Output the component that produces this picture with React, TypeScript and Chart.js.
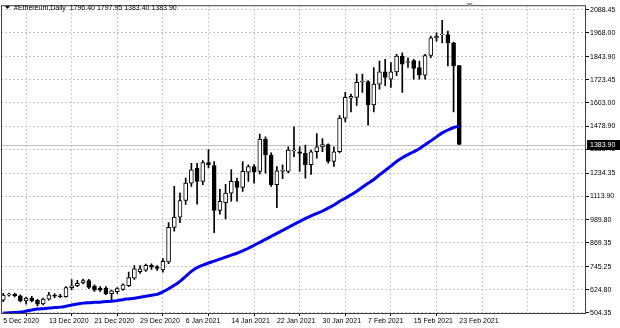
import React, { useEffect, useRef } from "react";
import { Chart, registerables } from "chart.js";
Chart.register(...registerables);

// Daily candles, 5 Dec 2020 .. 23 Feb 2021 (index 0..80)
const opens = [570, 596, 601, 592, 566, 580, 568, 550, 575, 596, 592, 588, 635, 645, 660, 672, 642, 633, 633, 604, 614, 626, 645, 685, 718, 727, 752, 745, 728, 770, 950, 1004, 1091, 1182, 1260, 1191, 1289, 1274, 1039, 1079, 1130, 1191, 1160, 1239, 1269, 1243, 1412, 1329, 1174, 1244, 1243, 1350, 1346, 1338, 1278, 1346, 1372, 1384, 1295, 1346, 1522, 1626, 1631, 1711, 1713, 1591, 1700, 1764, 1726, 1764, 1847, 1814, 1823, 1787, 1747, 1850, 1942, 1958, 1959, 1916, 1796.4];
const highs = [605, 606, 606, 598, 585, 590, 574, 580, 610, 604, 600, 640, 677, 673, 680, 678, 650, 640, 640, 622, 635, 655, 716, 750, 751, 758, 760, 750, 787, 975, 1165, 1130, 1208, 1286, 1286, 1300, 1357, 1295, 1150, 1175, 1253, 1208, 1295, 1278, 1279, 1438, 1424, 1340, 1269, 1278, 1372, 1476, 1372, 1381, 1355, 1441, 1415, 1388, 1372, 1536, 1657, 1648, 1752, 1752, 1718, 1787, 1821, 1830, 1813, 1856, 1864, 1838, 1830, 1821, 1856, 1951, 1968, 2034, 1977, 1920, 1797.95];
const lows = [562, 590, 586, 560, 548, 560, 540, 545, 570, 582, 582, 585, 625, 640, 655, 630, 615, 615, 598, 566, 605, 620, 640, 678, 710, 720, 730, 725, 716, 760, 930, 975, 1070, 1165, 1072, 1174, 1262, 923, 1020, 994, 1087, 1087, 1139, 1191, 1182, 1230, 1234, 1165, 1053, 1205, 1235, 1320, 1243, 1208, 1227, 1312, 1346, 1286, 1269, 1340, 1502, 1554, 1588, 1657, 1485, 1554, 1674, 1692, 1683, 1744, 1657, 1787, 1726, 1726, 1726, 1838, 1925, 1916, 1795, 1554, 1383.4];
const closes = [596, 601, 592, 566, 580, 566, 548, 575, 598, 590, 588, 635, 645, 658, 672, 636, 622, 622, 604, 618, 630, 650, 687, 733, 733, 752, 742, 736, 773, 950, 1004, 1091, 1182, 1252, 1191, 1289, 1279, 1039, 1087, 1130, 1191, 1160, 1243, 1269, 1239, 1412, 1329, 1174, 1246, 1249, 1355, 1356, 1338, 1278, 1346, 1372, 1383, 1295, 1346, 1522, 1631, 1636, 1709, 1714, 1591, 1700, 1764, 1735, 1764, 1847, 1804, 1818, 1782, 1747, 1850, 1942, 1951, 1962, 1916, 1795, 1383.9];
// Moving average (blue line)
const maValues = [502, 503, 505, 507, 512, 518, 523, 525, 528, 531, 533, 538, 544, 549, 554, 556, 558, 559, 562, 564, 567, 572, 576, 580, 585, 590, 595, 600, 613, 629, 647, 668, 694, 720, 740, 753, 764, 774, 784, 795, 805, 815, 828, 841, 857, 872, 888, 903, 919, 935, 950, 966, 981, 997, 1010, 1023, 1036, 1051, 1067, 1087, 1103, 1121, 1139, 1160, 1181, 1201, 1225, 1248, 1271, 1295, 1315, 1331, 1346, 1362, 1383, 1403, 1424, 1445, 1460, 1473, 1481];

const xTickIdx = [0, 8, 16, 24, 32, 40, 48, 56, 64, 72, 80, 88, 96];
const xTickLabels = ["5 Dec 2020", "13 Dec 2020", "21 Dec 2020", "29 Dec 2020", "6 Jan 2021", "14 Jan 2021", "22 Jan 2021", "30 Jan 2021", "7 Feb 2021", "15 Feb 2021", "23 Feb 2021"];
const yTicks = [504.35, 624.8, 745.25, 869.35, 989.8, 1113.9, 1234.35, 1358.45, 1478.9, 1603.0, 1723.45, 1843.9, 1968.0, 2088.45];
const titleText = "#Ethereum,Daily  1796.40 1797.95 1383.40 1383.90";
const bidPrice = 1383.9;

const FONT = "'Liberation Sans', Arial, sans-serif";

const decorPlugin = {
  id: "decor",
  beforeDatasetsDraw(chart: any) {
    const { ctx, chartArea } = chart;
    const y = chart.scales.y.getPixelForValue(bidPrice);
    ctx.save();
    ctx.strokeStyle = "#c0c0c0";
    ctx.lineWidth = 1;
    ctx.beginPath();
    ctx.moveTo(chartArea.left, Math.round(y) + 0.5);
    ctx.lineTo(chartArea.right, Math.round(y) + 0.5);
    ctx.stroke();
    ctx.restore();
  },
  afterDraw(chart: any) {
    const { ctx, chartArea } = chart;
    ctx.save();
    // frame
    ctx.strokeStyle = "#404040";
    ctx.lineWidth = 1;
    ctx.strokeRect(chartArea.left + 0.5, chartArea.top + 0.5, chartArea.right - chartArea.left - 1, chartArea.bottom - chartArea.top);
    // title
    ctx.fillStyle = "#000";
    ctx.beginPath();
    ctx.moveTo(5, 6);
    ctx.lineTo(10, 6);
    ctx.lineTo(7.5, 9);
    ctx.closePath();
    ctx.fill();
    ctx.font = `7px ${FONT}`;
    ctx.textBaseline = "middle";
    ctx.textAlign = "left";
    ctx.fillText(titleText, 14, 8);
    // shift marker
    ctx.fillStyle = "#a0a0a0";
    ctx.beginPath();
    ctx.moveTo(466, 3);
    ctx.lineTo(473, 3);
    ctx.lineTo(469.5, 6.5);
    ctx.closePath();
    ctx.fill();
    // bid price label
    const y = chart.scales.y.getPixelForValue(bidPrice);
    ctx.fillStyle = "#000";
    ctx.fillRect(chartArea.right + 1, Math.round(y) - 5, 33, 10);
    ctx.fillStyle = "#fff";
    ctx.fillText(bidPrice.toFixed(2), chartArea.right + 4, Math.round(y) + 0.5);
    ctx.restore();
  },
};

export default function App() {
  const ref = useRef<HTMLCanvasElement>(null);
  useEffect(() => {
    document.body.style.margin = "0";
    const idx = opens.map((_, i) => i);
    const bodies = idx.map((i) => ({ x: i, y: [opens[i], closes[i]] }));
    const wicks = idx.map((i) => ({ x: i, y: [lows[i], highs[i]] }));
    const ma = maValues.map((v, i) => ({ x: i, y: v }));
    const chart = new Chart(ref.current as HTMLCanvasElement, {
      type: "bar",
      data: {
        datasets: [
          {
            type: "line",
            data: ma as any,
            borderColor: "#0000ee",
            borderWidth: 3,
            pointRadius: 0,
            tension: 0.2,
            fill: false,
          } as any,
          {
            type: "bar",
            data: bodies as any,
            backgroundColor: idx.map((i) => (closes[i] >= opens[i] ? "#ffffff" : "#000000")),
            borderColor: "#000",
            borderWidth: 1,
            borderSkipped: false,
            barThickness: 4,
            grouped: false,
          } as any,
          {
            type: "bar",
            data: wicks as any,
            backgroundColor: "#000",
            barThickness: 1,
            grouped: false,
          } as any,
        ],
      },
      options: {
        animation: false,
        responsive: true,
        maintainAspectRatio: false,
        layout: { padding: { top: 2, left: 1, right: 0, bottom: 0 } },
        plugins: { legend: { display: false }, tooltip: { enabled: false }, title: { display: false } },
        scales: {
          x: {
            type: "linear",
            min: -0.4,
            max: 102.23,
            offset: false,
            afterBuildTicks: (s: any) => {
              s.ticks = xTickIdx.map((v) => ({ value: v }));
            },
            afterFit: (s: any) => {
              s.height = 15;
            },
            ticks: {
              autoSkip: false,
              maxRotation: 0,
              align: "start",
              padding: 1,
              color: "#000",
              font: { family: FONT, size: 7 },
              callback: (_v: any, i: number) => xTickLabels[i] ?? "",
            },
            grid: {
              color: "#c8c8c8",
              lineWidth: 1,
              drawTicks: true,
              tickLength: 3,
              tickColor: (c: any) => (c.index <= 10 ? "#000" : "rgba(0,0,0,0)"),
              tickBorderDash: [],
            },
            border: { display: false, dash: [2, 2] },
          },
          y: {
            type: "linear",
            position: "right",
            min: 502.3,
            max: 2113,
            afterBuildTicks: (s: any) => {
              s.ticks = yTicks.map((v) => ({ value: v }));
            },
            afterFit: (s: any) => {
              s.width = 34;
            },
            ticks: {
              padding: 1,
              color: "#000",
              font: { family: FONT, size: 7 },
              callback: (v: any) => Number(v).toFixed(2),
            },
            grid: {
              color: "#c8c8c8",
              lineWidth: 1,
              drawTicks: true,
              tickLength: 3,
              tickColor: "#000",
              tickBorderDash: [],
            },
            border: { display: false, dash: [2, 2] },
          },
        },
      } as any,
      plugins: [decorPlugin],
    });
    return () => chart.destroy();
  }, []);
  return (
    <div style={{ width: 620, height: 328, position: "relative", background: "#fff" }}>
      <canvas ref={ref} />
    </div>
  );
}
